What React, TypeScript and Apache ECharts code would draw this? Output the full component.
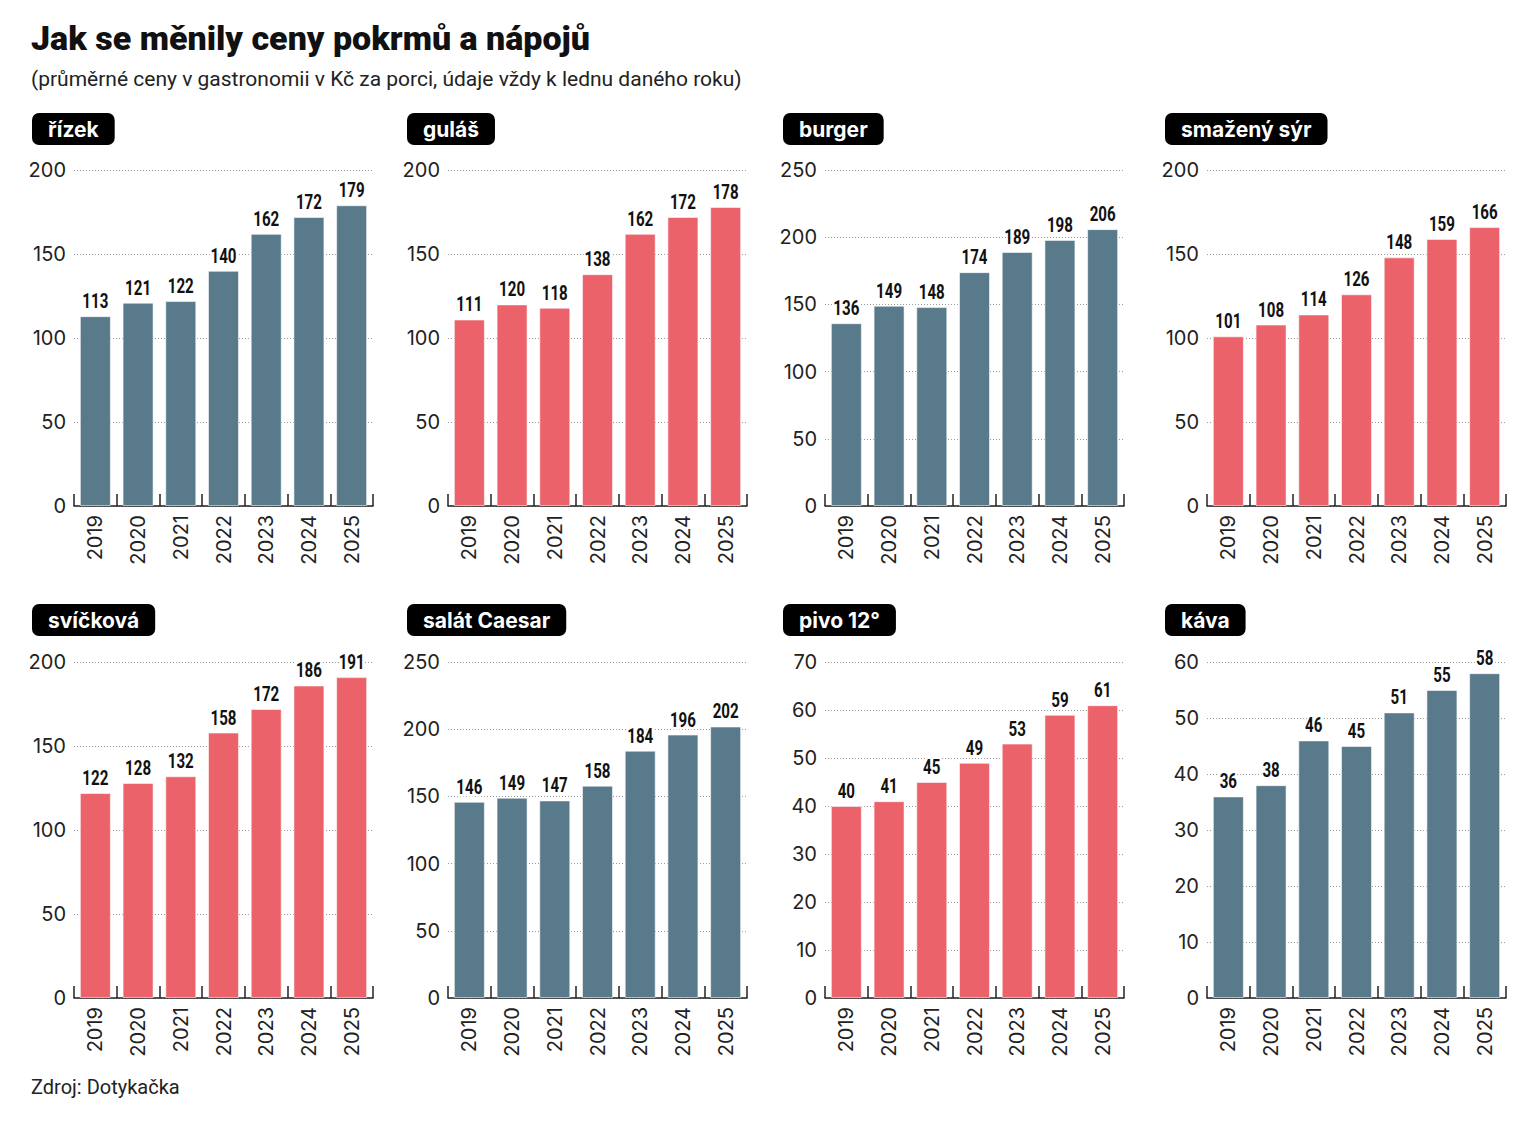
import React, { useEffect, useRef } from "react";
import * as echarts from "echarts";

const years = ["2019", "2020", "2021", "2022", "2023", "2024", "2025"];

const panelNames = ["řízek", "guláš", "burger", "smažený sýr", "svíčková", "salát Caesar", "pivo 12°", "káva"];
const rizek = [113, 121, 122, 140, 162, 172, 179];
const gulas = [111, 120, 118, 138, 162, 172, 178];
const burger = [136, 149, 148, 174, 189, 198, 206];
const smazenySyr = [101, 108, 114, 126, 148, 159, 166];
const svickova = [122, 128, 132, 158, 172, 186, 191];
const salatCaesar = [146, 149, 147, 158, 184, 196, 202];
const pivo = [40, 41, 45, 49, 53, 59, 61];
const kava = [36, 38, 46, 45, 51, 55, 58];
const panelValues = [rizek, gulas, burger, smazenySyr, svickova, salatCaesar, pivo, kava];
const axisMax = [200, 200, 250, 200, 200, 250, 70, 60];
const axisStep = [50, 50, 50, 50, 50, 50, 10, 10];

const BLUE = "#587a8a";
const RED = "#ec626b";
const panelColors = [BLUE, RED, BLUE, RED, RED, BLUE, RED, BLUE];

const gridLefts = [74, 448, 825, 1207];
const gridTops = [170, 662];
const badgeLefts = [32, 407, 783, 1165];
const badgeTops = [113, 604];

const AXIS_FONT = "Inter, Roboto, sans-serif";

export default function App() {
  const ref = useRef<HTMLDivElement>(null);

  useEffect(() => {
    if (!ref.current) return;
    const chart = echarts.init(ref.current, undefined, { renderer: "svg" });

    const grids: any[] = [];
    const xAxes: any[] = [];
    const yAxes: any[] = [];
    const series: any[] = [];
    const titles: any[] = [];

    panelNames.forEach((name, i) => {
      const col = i % 4;
      const row = Math.floor(i / 4);
      grids.push({ left: gridLefts[col], top: gridTops[row], width: 299, height: 336 });
      xAxes.push({
        type: "category",
        gridIndex: i,
        data: years,
        axisLine: { show: true, lineStyle: { color: "#222", width: 1.5 } },
        axisTick: { show: true, inside: true, length: 12, lineStyle: { color: "#222", width: 1.5 } },
        axisLabel: { rotate: 90, margin: 9, fontSize: 20, color: "#222", fontFamily: AXIS_FONT },
      });
      yAxes.push({
        type: "value",
        gridIndex: i,
        min: 0,
        max: axisMax[i],
        interval: axisStep[i],
        axisLine: { show: false },
        axisTick: { show: false },
        axisLabel: { margin: 8, fontSize: 20, color: "#222", fontFamily: AXIS_FONT },
        splitLine: { show: true, lineStyle: { color: "#9a9a9a", type: [1, 2], width: 1 } },
      });
      series.push({
        type: "bar",
        name,
        xAxisIndex: i,
        yAxisIndex: i,
        data: panelValues[i],
        barWidth: 31,
        z: 3,
        itemStyle: { color: panelColors[i], borderColor: "rgba(255,255,255,0.55)", borderWidth: 1 },
      });
      series.push({
        type: "custom",
        name: name + " labels",
        xAxisIndex: i,
        yAxisIndex: i,
        z: 6,
        silent: true,
        data: panelValues[i].map((v, j) => [j, v]),
        renderItem: (params: any, api: any) => {
          const pt = api.coord([api.value(0), api.value(1)]);
          return {
            type: "text",
            x: pt[0],
            y: pt[1] - 5,
            scaleX: 0.72,
            style: {
              text: String(api.value(1)),
              align: "center",
              verticalAlign: "bottom",
              fontFamily: "Roboto, sans-serif",
              fontSize: 21,
              fontWeight: "bold",
              fill: "#111",
              stroke: "#fff",
              lineWidth: 5,
            },
          };
        },
      });
      titles.push({
        text: name,
        left: badgeLefts[col],
        top: badgeTops[row],
        padding: [4, 16, 4, 16],
        backgroundColor: "#000",
        borderRadius: 7,
        textStyle: { fontFamily: "Inter, Roboto, sans-serif", fontSize: 21, fontWeight: "bold", color: "#fff", lineHeight: 24 },
      });
    });

    chart.setOption({
      animation: false,
      backgroundColor: "#fff",
      title: titles,
      graphic: [
        {
          type: "text",
          left: 31,
          top: 21,
          style: {
            text: "Jak se měnily ceny pokrmů a nápojů",
            fontFamily: "Roboto, sans-serif",
            fontSize: 34,
            fontWeight: 900,
            fill: "#111",
          },
        },
        {
          type: "text",
          left: 31,
          top: 68,
          style: {
            text: "(průměrné ceny v gastronomii v Kč za porci, údaje vždy k lednu daného roku)",
            fontFamily: "Roboto, sans-serif",
            fontSize: 21,
            fontWeight: "normal",
            fill: "#222",
          },
        },
        {
          type: "text",
          left: 31,
          top: 1077,
          style: {
            text: "Zdroj: Dotykačka",
            fontFamily: "Roboto, sans-serif",
            fontSize: 20,
            fontWeight: "normal",
            fill: "#222",
          },
        },
      ],
      grid: grids,
      xAxis: xAxes,
      yAxis: yAxes,
      series,
    });

    return () => chart.dispose();
  }, []);

  return <div ref={ref} style={{ position: "absolute", left: 0, top: 0, width: 1536, height: 1121 }} />;
}
